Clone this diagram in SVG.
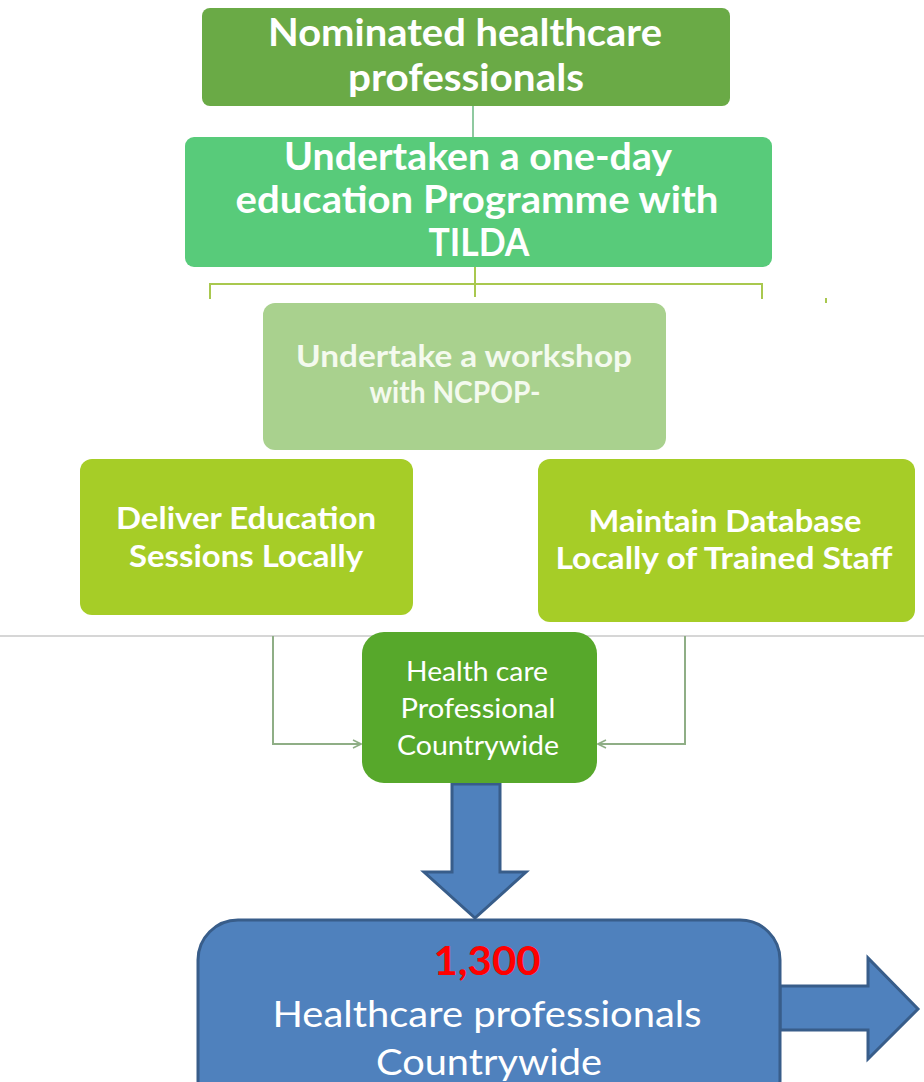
<svg xmlns="http://www.w3.org/2000/svg" width="924" height="1082" viewBox="0 0 924 1082">
  <defs>
    <style>
      .t { font-family: Lato, "Open Sans", "Liberation Sans", sans-serif; fill: #ffffff; text-anchor: middle; }
      .b { font-weight: bold; }
      .pale { fill: #f4faee; }
      .red { fill: #ff0000; }
      .conn { fill: none; stroke: #8fae86; stroke-width: 2; }
      .brk { fill: none; stroke: #a9c84f; stroke-width: 2; }
      .blue { fill: #4f81bd; stroke: #385d8a; stroke-width: 3; stroke-linejoin: miter; }
    </style>
    <marker id="openArrow" viewBox="0 0 10 10" refX="9" refY="5" markerWidth="10" markerHeight="10" markerUnits="userSpaceOnUse" orient="auto">
      <path d="M1,1 L9,5 L1,9" fill="none" stroke="#8fae86" stroke-width="1.6"/>
    </marker>
  </defs>

  <rect width="924" height="1082" fill="#ffffff"/>

  <!-- connectors -->
  <g id="connectors">
    <line x1="473" y1="106" x2="473" y2="137" stroke="#8fc9a0" stroke-width="2"/>
    <path class="brk" d="M475,267 V297 M210,299 V284 H762 V299"/>
    <line x1="826" y1="298" x2="826" y2="303" stroke="#a9c84f" stroke-width="2"/>
    <line x1="0" y1="636" x2="924" y2="636" stroke="#c8c8c8" stroke-width="1.5"/>
    <path class="conn" d="M273,636 V744 H361" marker-end="url(#openArrow)"/>
    <path class="conn" d="M685,636 V744 H598" marker-end="url(#openArrow)"/>
    <!-- block arrow down -->
    <path class="blue" d="M452,784 H500 V872 H526 L475,918 L424,872 H452 Z"/>
  </g>

  <g id="node-nominated">
    <rect x="202" y="8" width="528" height="98" rx="8" fill="#6aaa46"/>
    <text class="t b" font-size="38" x="465" y="46" textLength="394" lengthAdjust="spacingAndGlyphs">Nominated healthcare</text>
    <text class="t b" font-size="38" x="466" y="91" textLength="236" lengthAdjust="spacingAndGlyphs">professionals</text>
  </g>

  <g id="node-education">
    <rect x="185" y="137" width="587" height="130" rx="9" fill="#58cb7a"/>
    <text class="t b" font-size="38" x="478" y="170" textLength="388" lengthAdjust="spacingAndGlyphs">Undertaken a one-day</text>
    <text class="t b" font-size="38" x="477" y="213" textLength="483" lengthAdjust="spacingAndGlyphs">education Programme with</text>
    <text class="t b" font-size="38" x="479" y="256" textLength="101" lengthAdjust="spacingAndGlyphs">TILDA</text>
  </g>

  <g id="node-workshop">
    <rect x="263" y="303" width="403" height="147" rx="12" fill="#a9d18e"/>
    <text class="t b pale" font-size="30" x="464" y="367" textLength="336" lengthAdjust="spacingAndGlyphs">Undertake a workshop</text>
    <text class="t b pale" font-size="30" x="455" y="403" textLength="171" lengthAdjust="spacingAndGlyphs">with NCPOP-</text>
  </g>

  <g id="node-deliver">
    <rect x="80" y="459" width="333" height="156" rx="12" fill="#a6cd27"/>
    <text class="t b" font-size="30" x="246" y="529" textLength="260" lengthAdjust="spacingAndGlyphs">Deliver Education</text>
    <text class="t b" font-size="30" x="246" y="567" textLength="234" lengthAdjust="spacingAndGlyphs">Sessions Locally</text>
  </g>

  <g id="node-database">
    <rect x="538" y="459" width="377" height="163" rx="12" fill="#a6cd27"/>
    <text class="t b" font-size="30" x="725" y="532" textLength="273" lengthAdjust="spacingAndGlyphs">Maintain Database</text>
    <text class="t b" font-size="30" x="724" y="569" textLength="337" lengthAdjust="spacingAndGlyphs">Locally of Trained Staff</text>
  </g>

  <g id="node-countrywide">
    <rect x="362" y="632" width="235" height="151" rx="22" fill="#57a82b"/>
    <text class="t" font-size="26" x="477" y="681" textLength="142" lengthAdjust="spacingAndGlyphs">Health care</text>
    <text class="t" font-size="26" x="478" y="718" textLength="155" lengthAdjust="spacingAndGlyphs">Professional</text>
    <text class="t" font-size="26" x="478" y="755" textLength="162" lengthAdjust="spacingAndGlyphs">Countrywide</text>
  </g>

  <g id="node-total">
    <path class="blue" d="M780,986 H868 V958 L918,1009 L868,1059 V1030 H780 Z"/>
    <rect class="blue" x="198" y="920" width="582" height="200" rx="40"/>
    <text class="t b red" font-size="40" x="487" y="975" textLength="107" lengthAdjust="spacingAndGlyphs">1,300</text>
    <text class="t" font-size="37" x="487" y="1027" textLength="429" lengthAdjust="spacingAndGlyphs">Healthcare professionals</text>
    <text class="t" font-size="37" x="489" y="1075" textLength="226" lengthAdjust="spacingAndGlyphs">Countrywide</text>
  </g>
</svg>
